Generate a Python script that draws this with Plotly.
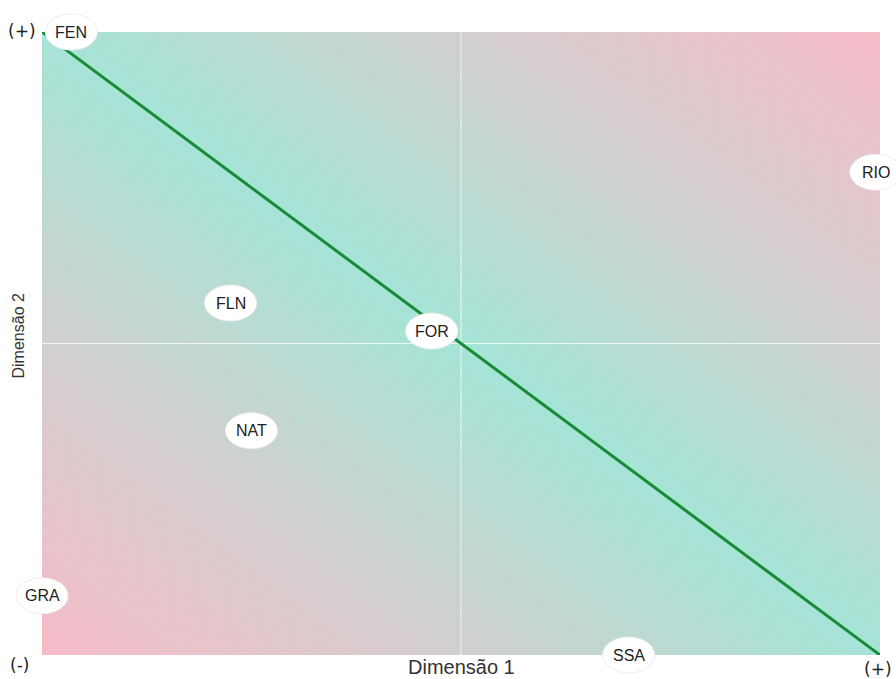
import numpy as np
import plotly.graph_objects as go

# Data
labels = ["FEN", "RIO", "FLN", "FOR", "NAT", "GRA", "SSA"]
dim1 = [-0.93, 0.99, -0.55, -0.07, -0.50, -1.00, 0.40]
dim2 = [1.00, 0.55, 0.13, 0.04, -0.28, -0.81, -1.00]
diag_x = [-1, 1]
diag_y = [1, -1]

XR = [-1, 1]
YR = [-1, 1]

# Background gradient (teal along anti-diagonal, pink at corners)
g = np.linspace(-1, 1, 61)
GX, GY = np.meshgrid(g, g)
Z = np.abs(GX + GY)

fig = go.Figure()
fig.add_trace(go.Heatmap(
    x=g, y=g, z=Z, zsmooth="best", showscale=False, hoverinfo="skip",
    zmin=0, zmax=2,
    colorscale=[[0, "#a5e4d6"], [0.5, "#d2cfcf"], [1, "#f7bcc8"]],
))
# Center lines
fig.add_trace(go.Scatter(x=[0, 0], y=[-1, 1], mode="lines",
                         line=dict(color="rgba(255,255,255,0.75)", width=1),
                         hoverinfo="skip", showlegend=False))
fig.add_trace(go.Scatter(x=[-1, 1], y=[0, 0], mode="lines",
                         line=dict(color="rgba(255,255,255,0.75)", width=1),
                         hoverinfo="skip", showlegend=False))
# Diagonal
fig.add_trace(go.Scatter(x=diag_x, y=diag_y, mode="lines",
                         line=dict(color="#1a8a37", width=3),
                         cliponaxis=False, showlegend=False))

# Label ellipses (paper-referenced so they are not clipped at the plot edges)
shapes = []
annotations = []
for x, y, t in zip(dim1, dim2, labels):
    px = (x - XR[0]) / (XR[1] - XR[0])
    py = (y - YR[0]) / (YR[1] - YR[0])
    shapes.append(dict(type="circle", xref="paper", yref="paper",
                       xsizemode="pixel", ysizemode="pixel",
                       xanchor=px, yanchor=py, x0=-26, x1=26, y0=-18, y1=18,
                       fillcolor="white", line=dict(color="#eeeeee", width=1),
                       layer="above"))
    annotations.append(dict(text=t, x=x, y=y, xref="x", yref="y", showarrow=False,
                            xanchor="center", yanchor="middle",
                            font=dict(family="Liberation Sans, Arial", size=16, color="#222")))

axis_font = dict(family="Liberation Sans, Arial", color="#333")
sign_font = dict(family="DejaVu Sans", size=17, color="#222")
annotations += [
    dict(text="Dimensão 1", x=0.5, y=0, xref="paper", yref="paper", yshift=-12,
         xanchor="center", yanchor="middle", showarrow=False,
         font=dict(size=20, **axis_font)),
    dict(text="Dimensão 2", x=0, y=0.5, xref="paper", yref="paper", xshift=-24, yshift=7,
         xanchor="center", yanchor="middle", textangle=-90, showarrow=False,
         font=dict(size=16, **axis_font)),
    dict(text="(+)", x=0, y=1, xref="paper", yref="paper", xshift=-20, yshift=1,
         xanchor="center", yanchor="middle", showarrow=False, font=sign_font),
    dict(text="(-)", x=0, y=0, xref="paper", yref="paper", xshift=-23, yshift=-10,
         xanchor="center", yanchor="middle", showarrow=False, font=sign_font),
    dict(text="(+)", x=1, y=0, xref="paper", yref="paper", xshift=-2, yshift=-14,
         xanchor="center", yanchor="middle", showarrow=False, font=sign_font),
]

fig.update_layout(
    width=896, height=679,
    margin=dict(l=42, r=16, t=32, b=24),
    paper_bgcolor="white", plot_bgcolor="white",
    shapes=shapes, annotations=annotations,
    xaxis=dict(range=XR, showgrid=False, zeroline=False, showticklabels=False,
               ticks="", showline=False),
    yaxis=dict(range=YR, showgrid=False, zeroline=False, showticklabels=False,
               ticks="", showline=False),
    showlegend=False,
)
fig.write_html("out.html", config={"displayModeBar": False},
               post_script="document.body.style.margin='0';document.body.style.overflow='hidden';")
